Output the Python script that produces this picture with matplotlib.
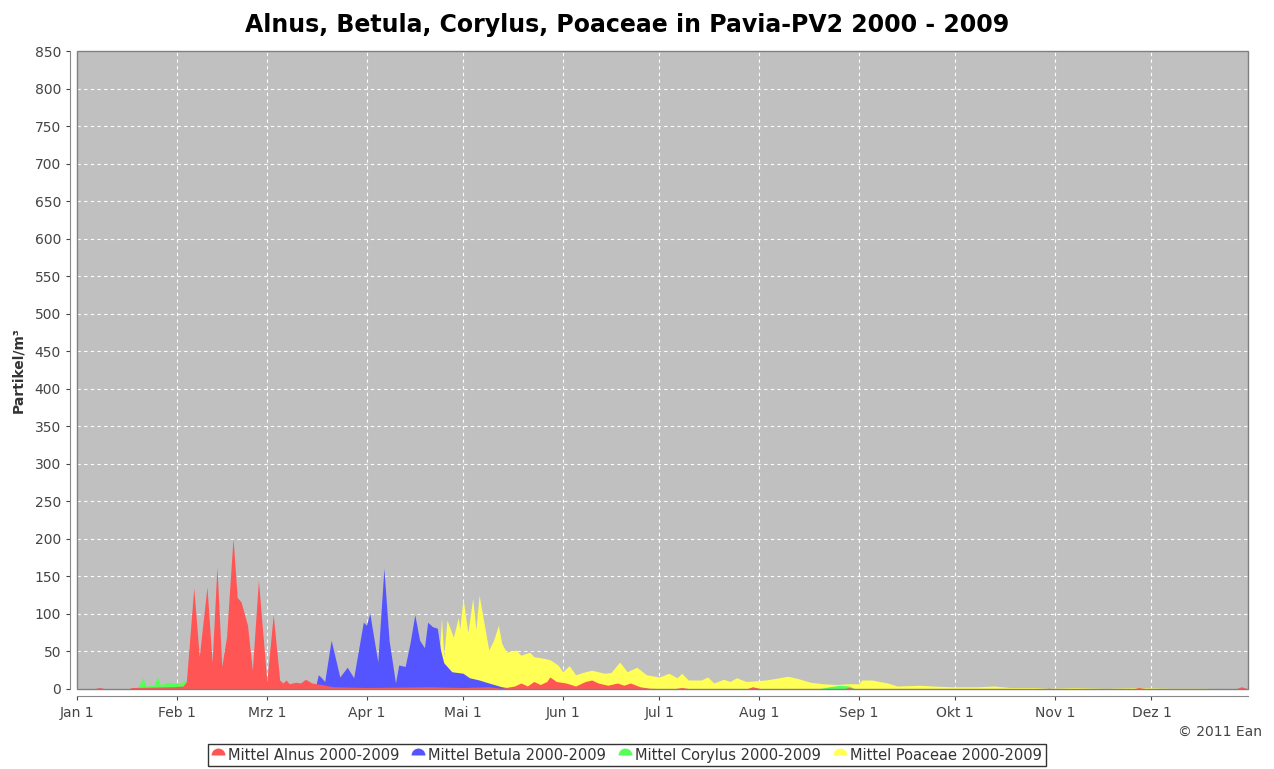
import matplotlib
matplotlib.use("Agg")
import matplotlib.pyplot as plt
from matplotlib.lines import Line2D
from matplotlib.markers import MarkerStyle
from matplotlib.patches import Rectangle

# ---------- Daten (Tag des Jahres, Partikel/m³) ----------
alnus_days = [0, 5, 7, 9, 16, 17, 30, 33, 34, 36.3, 38, 40.4, 42, 43.5, 45, 46.5,
              48.5, 49.8, 51, 53, 54.5, 56.4, 59, 61, 63, 64, 65, 66, 68, 69.5,
              71, 73, 76, 79.5, 90, 110, 120, 128, 132, 136, 138, 140, 142, 144,
              146, 147, 149, 152, 155, 158, 160, 162, 165, 168, 170, 172, 175,
              178, 185, 188, 191, 208, 210, 213, 238, 240, 242, 300, 302, 304,
              328, 330, 333, 360, 362, 364]
alnus_vals = [0, 0, 2, 0, 0, 2, 3, 4, 10, 135, 43, 136, 35, 163, 30, 70,
              201, 122, 116, 85, 25, 145, 10, 99, 12, 8, 12, 7, 9, 8,
              13, 8, 6, 3, 2, 3, 2, 3, 1, 4, 8, 4, 10, 6,
              10, 16, 10, 8, 4, 10, 12, 8, 5, 8, 5, 8, 3,
              1, 0, 2, 0, 0, 3, 0, 0, 2, 0, 0, 1, 0,
              0, 2, 0, 0, 3, 0]

betula_days = [0, 74, 75, 76, 77, 79, 81.7, 84, 86, 89, 90, 91, 92, 93.5, 95.4,
               97, 99, 100, 102, 103.5, 105, 106.5, 108, 109, 110.5, 112, 113,
               114, 116.5, 120, 122, 125, 128, 132, 135, 140, 364]
betula_vals = [0, 0, 19, 15, 10, 65, 16, 29, 15, 89, 85, 101, 75, 36, 161,
               65, 8, 32, 30, 61, 99, 65, 55, 89, 83, 81, 52,
               35, 23, 21, 15, 12, 8, 3, 1, 0, 0]

corylus_days = [0, 18, 19, 20.5, 21.5, 24, 25, 26, 28, 30, 32, 33.5, 34.5, 36,
                230, 234, 237, 240, 242, 364]
corylus_vals = [0, 0, 3, 15, 4, 5, 17, 5, 9, 8, 7, 12, 5, 0,
                0, 3, 5, 4, 0, 0]

poaceae_days = [0, 112, 113.3, 114, 115, 117, 118.5, 119, 120, 121.5, 123, 124,
                125, 126.5, 128, 129.5, 131, 132, 133.5, 136.5, 138, 140.7, 142,
                145, 147, 149.5, 151, 153, 155, 158, 160, 164, 166, 168.7, 171,
                174, 177, 181, 184, 186.5, 188, 190, 194, 196, 198, 201, 203,
                205, 208, 214, 217, 221, 224, 228, 232, 236, 240, 243, 244, 247,
                252, 255, 262, 266, 272, 280, 285, 290, 298, 302, 310, 320, 330,
                340, 350, 358, 364]
poaceae_vals = [0, 0, 95, 43, 92, 69, 95, 80, 121, 75, 121, 79,
                125, 88, 52, 65, 85, 61, 49, 52, 45, 49, 43,
                41, 39, 32, 23, 31, 19, 23, 25, 21, 22, 36, 23,
                29, 19, 16, 21, 15, 21, 12, 12, 16, 8, 13, 10,
                15, 10, 12, 14, 17, 14, 9, 7, 6, 7, 7, 12, 12,
                8, 4, 5, 4, 3, 3, 4, 2, 2, 1, 2, 1, 2,
                1, 1, 0, 0]

month_ticks = [0, 31, 59, 90, 120, 151, 181, 212, 243, 273, 304, 334]
month_labels = ["Jan 1", "Feb 1", "Mrz 1", "Apr 1", "Mai 1", "Jun 1", "Jul 1",
                "Aug 1", "Sep 1", "Okt 1", "Nov 1", "Dez 1"]

series = [
    ("Mittel Alnus 2000-2009", alnus_days, alnus_vals, "#FF5555"),
    ("Mittel Betula 2000-2009", betula_days, betula_vals, "#5555FF"),
    ("Mittel Corylus 2000-2009", corylus_days, corylus_vals, "#55FF55"),
    ("Mittel Poaceae 2000-2009", poaceae_days, poaceae_vals, "#FFFF55"),
]

plt.rcParams["font.family"] = "DejaVu Sans"
fig = plt.figure(figsize=(12.74, 7.69), dpi=100)
W, H = 1274, 769
ax = fig.add_axes([77 / W, 1 - 689 / H, (1248 - 77) / W, (689 - 51) / H])
ax.set_facecolor("#C0C0C0")

# JFreeChart zeichnet die erste Serie ganz vorne
for z, (name, d, v, c) in enumerate(series):
    ax.fill_between(d, v, 0, color=c, lw=0, zorder=10 - z)

ax.set_xlim(0, 364)
ax.set_ylim(0, 850)
ax.set_xticks(month_ticks)
ax.set_xticklabels(month_labels)
ax.set_yticks(range(0, 851, 50))
ax.grid(True, color="white", ls=(0, (3, 3)), lw=0.8)
ax.set_axisbelow(True)
ax.tick_params(colors="#444444", labelsize=10, length=3, width=0.8)
ax.tick_params(axis="x", pad=4)

for s in ["top", "right"]:
    ax.spines[s].set_visible(False)
for s in ["left", "bottom"]:
    ax.spines[s].set_position(("outward", 5))
    ax.spines[s].set_color("#888888")
ax.add_patch(Rectangle((0, 0), 1, 1, transform=ax.transAxes, fill=False,
                       ec="#808080", lw=1, zorder=20, clip_on=False))

ax.set_ylabel("Partikel/m³", fontsize=10, fontweight="bold", color="#333333",
              labelpad=7)

fig.text(627 / W, 1 - 25 / H, "Alnus, Betula, Corylus, Poaceae in Pavia-PV2 2000 - 2009",
         ha="center", va="center", fontsize=17, fontweight="bold")
fig.text(1262 / W, 1 - 732 / H, "© 2011 Ean", ha="right", va="center",
         fontsize=10, color="#444444")

dome = MarkerStyle("o", fillstyle="top")
handles = [Line2D([], [], ls="", marker=dome, ms=10, mfc=c, mec=c, mew=0,
                  markerfacecoloralt="none") for _, _, _, c in series]
leg = fig.legend(handles, [s[0] for s in series], loc="upper center",
                 bbox_to_anchor=(627 / W, 1 - 744 / H), ncol=4, frameon=True,
                 fancybox=False, edgecolor="black", fontsize=10.5,
                 handlelength=0.8, handletextpad=0.3, columnspacing=0.9,
                 borderpad=0.25, borderaxespad=0)
leg.get_frame().set_linewidth(1)
for t in leg.get_texts():
    t.set_color("#333333")

fig.savefig("out.png", dpi=100)
